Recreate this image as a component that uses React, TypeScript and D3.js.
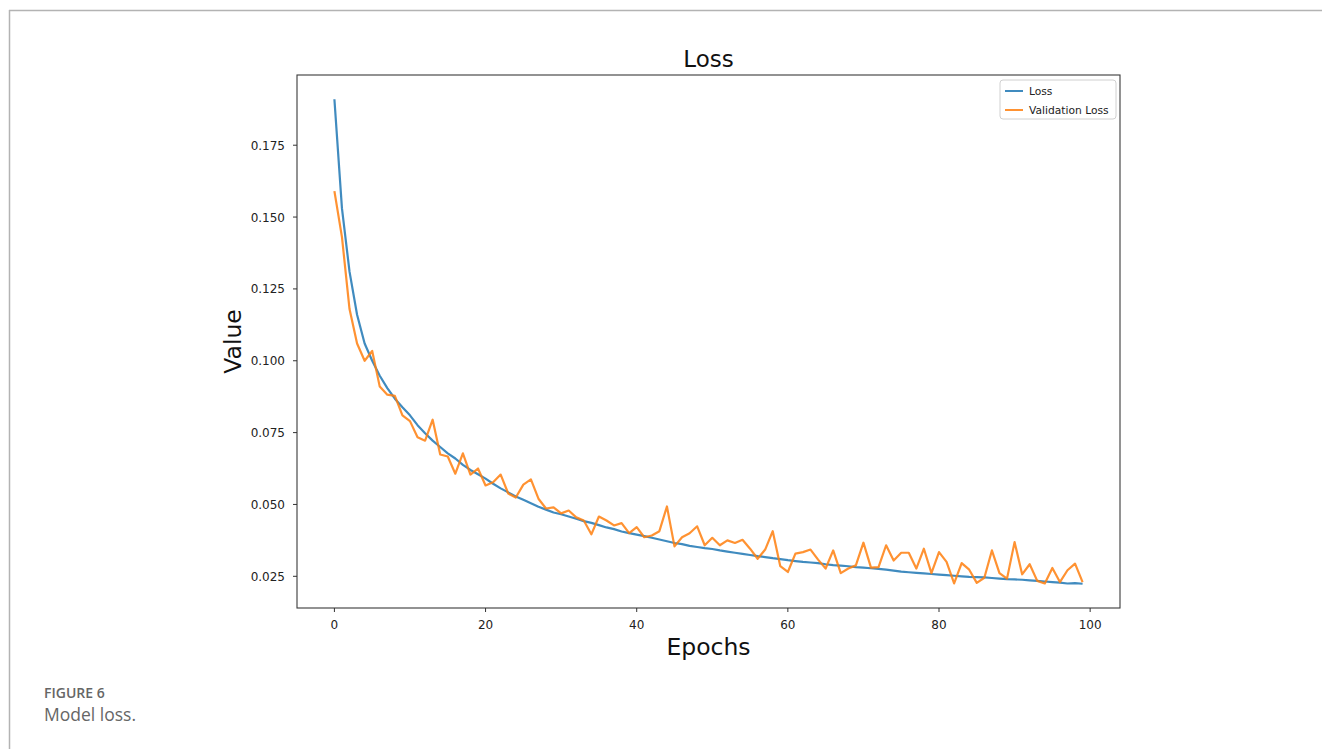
import React from 'react';
import * as d3 from 'd3';

// values, one per epoch (0..99)
const loss = [
  0.191, 0.153, 0.131, 0.116, 0.106, 0.100, 0.0948, 0.0905, 0.0868, 0.0838,
  0.0810, 0.0776, 0.0748, 0.0722, 0.0700, 0.0678, 0.0660, 0.0638, 0.0620, 0.0605,
  0.0590, 0.0572, 0.0556, 0.0542, 0.0528, 0.0516, 0.0504, 0.0492, 0.0482, 0.0472,
  0.0466, 0.0458, 0.0450, 0.0442, 0.0436, 0.0428, 0.0420, 0.0414, 0.0406, 0.0400,
  0.0395, 0.0390, 0.0384, 0.0378, 0.0372, 0.0366, 0.0362, 0.0356, 0.0352, 0.0348,
  0.0345, 0.0340, 0.0336, 0.0332, 0.0328, 0.0324, 0.0320, 0.0317, 0.0313, 0.0310,
  0.0306, 0.0303, 0.0300, 0.0298, 0.0296, 0.0292, 0.0289, 0.0287, 0.0285, 0.0282,
  0.0280, 0.0278, 0.0276, 0.0273, 0.0270, 0.0266, 0.0264, 0.0262, 0.0260, 0.0258,
  0.0256, 0.0254, 0.0252, 0.0250, 0.0248, 0.0247, 0.0246, 0.0244, 0.0242, 0.0240,
  0.0239, 0.0238, 0.0236, 0.0234, 0.0232, 0.0230, 0.0228, 0.0225, 0.0226, 0.0224,
];

const valLoss = [
  0.159, 0.143, 0.118, 0.106, 0.100, 0.1034, 0.091, 0.0882, 0.0878, 0.081,
  0.079, 0.0734, 0.0722, 0.0795, 0.0674, 0.0667, 0.0607, 0.0678, 0.0604, 0.0625,
  0.0566, 0.0577, 0.0604, 0.0538, 0.0524, 0.0569, 0.0587, 0.052, 0.0486, 0.049,
  0.0469, 0.0479, 0.0455, 0.0444, 0.0396, 0.0458, 0.0444, 0.0427, 0.0435, 0.040,
  0.0421, 0.0386, 0.0392, 0.0407, 0.0493, 0.0354, 0.0386, 0.040, 0.0424, 0.0358,
  0.0384, 0.0358, 0.0375, 0.0366, 0.0377, 0.0346, 0.0311, 0.0343, 0.0407, 0.0285,
  0.0265, 0.0329, 0.0334, 0.0343, 0.0308, 0.0277, 0.034, 0.0261, 0.0277, 0.0288,
  0.0367, 0.028, 0.0282, 0.0358, 0.0305, 0.0332, 0.0332, 0.0277, 0.0346, 0.0261,
  0.0334, 0.030, 0.0225, 0.0296, 0.0273, 0.0227, 0.0245, 0.034, 0.0261, 0.0242,
  0.0369, 0.0257, 0.0292, 0.0234, 0.0225, 0.0279, 0.023, 0.0271, 0.0294, 0.023,
];

const xTicks = [0, 20, 40, 60, 80, 100];
const yTicks = [0.025, 0.05, 0.075, 0.1, 0.125, 0.15, 0.175];
const seriesNames = ['Loss', 'Validation Loss'];
const colors = ['#1f77b4', '#ff7f0e'];

const W = 1322;
const H = 749;
const plot = { left: 297, right: 1120, top: 75, bottom: 608 };
const mpl = 'DejaVu Sans, sans-serif';

export default function App() {
  // matplotlib-style 5% margins around the data
  const n = loss.length - 1;
  const x = d3.scaleLinear()
    .domain([-n * 0.05, n * 1.05])
    .range([plot.left, plot.right]);

  const all = loss.concat(valLoss);
  const lo = d3.min(all) as number;
  const hi = d3.max(all) as number;
  const pad = (hi - lo) * 0.05;
  const y = d3.scaleLinear()
    .domain([lo - pad, hi + pad])
    .range([plot.bottom, plot.top]);

  const line = d3.line<number>()
    .x((d, i) => x(i))
    .y(d => y(d));

  const midX = (plot.left + plot.right) / 2;
  const midY = (plot.top + plot.bottom) / 2;

  return (
    <svg width={W} height={H} style={{ position: 'absolute', left: 0, top: 0, background: '#fff' }}>
      {/* page frame */}
      <line x1={9} x2={W} y1={10.5} y2={10.5} stroke="#b3b3b3" strokeWidth={1.5} />
      <line x1={9.5} x2={9.5} y1={10} y2={H} stroke="#b3b3b3" strokeWidth={1.5} />

      <text x={midX} y={67} textAnchor="middle" fontFamily={mpl} fontSize={23} fill="#111">Loss</text>

      {/* series */}
      {[loss, valLoss].map((s, k) => (
        <path key={k} d={line(s) || ''} fill="none" stroke={colors[k]}
          strokeWidth={2.2} strokeOpacity={0.85} strokeLinejoin="round" />
      ))}

      {/* axes box */}
      <rect x={plot.left} y={plot.top} width={plot.right - plot.left} height={plot.bottom - plot.top}
        fill="none" stroke="#3a3a3a" strokeWidth={1.1} />

      {xTicks.map(t => (
        <g key={t} transform={`translate(${x(t)},${plot.bottom})`}>
          <line y1={0} y2={4} stroke="#333" />
          <text y={21} textAnchor="middle" fontFamily={mpl} fontSize={12} fill="#222">{t}</text>
        </g>
      ))}
      {yTicks.map(t => (
        <g key={t} transform={`translate(${plot.left},${y(t)})`}>
          <line x1={0} x2={-4} stroke="#333" />
          <text x={-12} y={4.5} textAnchor="end" fontFamily={mpl} fontSize={12} fill="#222">{d3.format('.3f')(t)}</text>
        </g>
      ))}

      <text x={midX} y={655} textAnchor="middle" fontFamily={mpl} fontSize={23.5} fill="#111">Epochs</text>
      <text transform={`translate(241,${midY}) rotate(-90)`} textAnchor="middle" fontFamily={mpl}
        fontSize={23.5} fill="#111">Value</text>

      {/* legend */}
      <rect x={1000} y={80} width={116} height={39} rx={3} fill="#fff" fillOpacity={0.8} stroke="#d0d0d0" />
      {seriesNames.map((name, k) => (
        <g key={name} transform={`translate(1005,${91 + k * 19})`}>
          <line x1={0} x2={18} stroke={colors[k]} strokeWidth={2} strokeOpacity={0.85} />
          <text x={24} y={4} fontFamily={mpl} fontSize={10.7} fill="#222">{name}</text>
        </g>
      ))}

      {/* caption */}
      <text x={44} y={698} fontFamily="'Open Sans', sans-serif" fontSize={14} fontWeight={600} fill="#666">FIGURE 6</text>
      <text x={44} y={721} fontFamily="'Open Sans', sans-serif" fontSize={17.5} fill="#666">Model loss.</text>
    </svg>
  );
}
